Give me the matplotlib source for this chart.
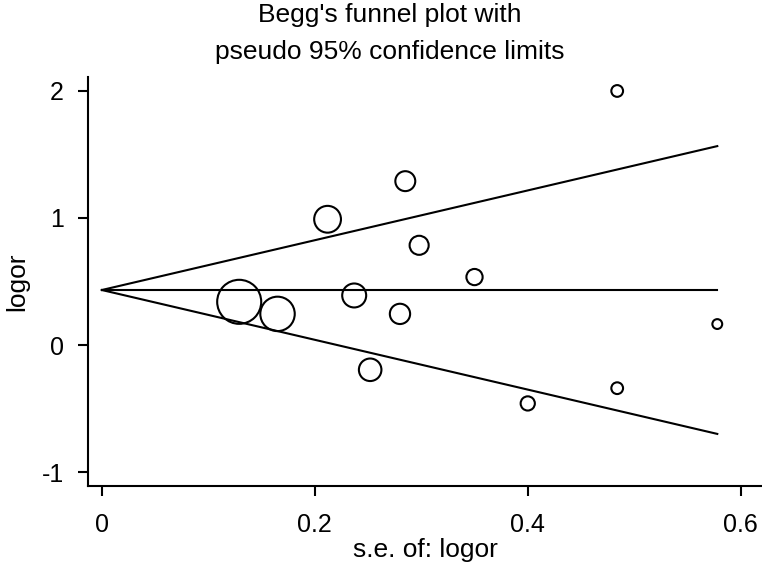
import numpy as np
import matplotlib.pyplot as plt

plt.rcParams['font.family'] = ['Liberation Sans', 'DejaVu Sans']

# study data: standard error and log odds ratio
se = [0.129, 0.165, 0.212, 0.237, 0.252, 0.280, 0.285, 0.298, 0.350, 0.400, 0.484, 0.484, 0.578]
logor = [0.34, 0.245, 0.99, 0.39, -0.195, 0.245, 1.29, 0.785, 0.535, -0.46, 2.0, -0.34, 0.165]
pooled = 0.433

se = np.array(se)
logor = np.array(logor)

fig = plt.figure(figsize=(7.62, 5.81), dpi=100)
ax = fig.add_axes([88 / 762, (581 - 486) / 581, 1 - 88 / 762, (486 - 77) / 581])

# pseudo 95% confidence limits
xs = np.array([0, se.max()])
ax.plot(xs, [pooled, pooled], color='black', lw=1.5)
ax.plot(xs, pooled + 1.96 * xs, color='black', lw=1.5)
ax.plot(xs, pooled - 1.96 * xs, color='black', lw=1.5)

# marker size proportional to 1/se (diameter)
diam = 4.09 / se
ax.scatter(se, logor, s=diam ** 2, facecolors='none', edgecolors='black', linewidths=1.5, zorder=3)

ax.set_xlim(-0.013, 0.62)
ax.set_ylim(-1.11, 2.11)
ax.set_xticks([0, 0.2, 0.4, 0.6])
ax.set_xticklabels(['0', '0.2', '0.4', '0.6'])
ax.set_yticks([-1, 0, 1, 2])
ax.set_yticklabels(['-1', '0', '1', '2'])
ax.tick_params(direction='out', length=7.5, width=1.5, labelsize=18)
ax.tick_params(axis='x', pad=12)
ax.tick_params(axis='y', pad=10)

for s in ['top', 'right']:
    ax.spines[s].set_visible(False)
for s in ['left', 'bottom']:
    ax.spines[s].set_linewidth(1.5)

ax.set_xlabel('s.e. of: logor', fontsize=19, labelpad=1)
ax.set_ylabel('logor', fontsize=19, labelpad=9)
fig.text(0.512, 0.995, "Begg's funnel plot with\npseudo 95% confidence limits",
         fontsize=19, ha='center', va='top', linespacing=1.7)

fig.savefig('out.png', dpi=100)
